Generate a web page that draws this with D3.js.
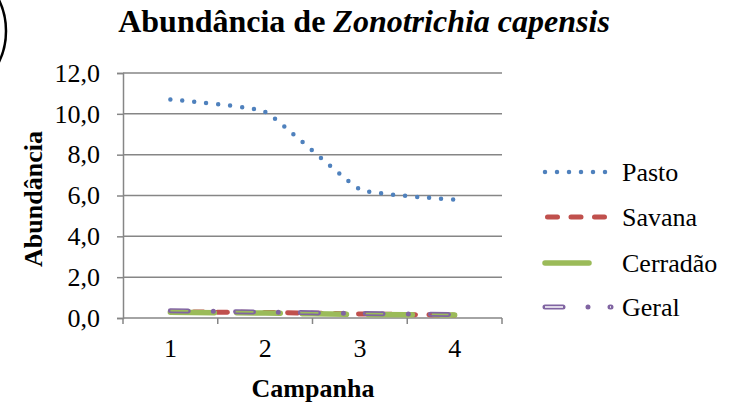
<!DOCTYPE html>
<html>
<head>
<meta charset="utf-8">
<script src="https://cdn.jsdelivr.net/npm/d3@7"></script>
<style>
  body { margin: 0; background: #fff; }
  svg { display: block; font-family: "Liberation Serif", "Times New Roman", serif; }
</style>
</head>
<body>
<div id="chart"></div>
<script>
var WIDTH = 731
var HEIGHT = 406

var campanhas = ['1', '2', '3', '4']
var yTicks = [0, 2, 4, 6, 8, 10, 12]

var pasto = [10.7, 10.1, 6.3, 5.8]
var savana = [0.30, 0.27, 0.20, 0.14]
var cerradao = [0.28, 0.24, 0.17, 0.15]
var geral = [0.36, 0.29, 0.22, 0.17]

var seriesNames = ['Pasto', 'Savana', 'Cerradão', 'Geral']

var PLOT = {left: 123, right: 502, top: 73, bottom: 318}
var GRID = '#868686'
var FONT = '"Liberation Serif", "Times New Roman", serif'

var svg = d3.select('#chart').append('svg')
  .attr('width', WIDTH)
  .attr('height', HEIGHT)
  .attr('font-family', FONT)

var defs = svg.append('defs')

// stray circle from the panel label, cut by the left edge
svg.append('circle')
  .attr('cx', -64)
  .attr('cy', 31)
  .attr('r', 70)
  .attr('fill', 'none')
  .attr('stroke', '#000')
  .attr('stroke-width', 2.5)

var x = d3.scaleBand()
  .domain(campanhas)
  .range([PLOT.left, PLOT.right])

var y = d3.scaleLinear()
  .domain([0, 12])
  .range([PLOT.bottom, PLOT.top])

// gridlines
svg.append('g').selectAll('line')
  .data(yTicks.slice(1))
  .enter().append('line')
  .attr('x1', PLOT.left)
  .attr('x2', PLOT.right)
  .attr('y1', function (d) { return y(d) })
  .attr('y2', function (d) { return y(d) })
  .attr('stroke', GRID)
  .attr('stroke-width', 1.5)

// y axis
var yAxis = svg.append('g')
  .attr('transform', 'translate(' + PLOT.left + ',0)')
  .call(d3.axisLeft(y).tickValues(yTicks).tickSize(6).tickPadding(17)
    .tickFormat(function (d) { return d.toFixed(1).replace('.', ',') }))
yAxis.attr('font-family', FONT)
yAxis.select('.domain').attr('stroke', GRID).attr('stroke-width', 1.5)
yAxis.selectAll('.tick line').attr('stroke', GRID).attr('stroke-width', 1.5)
yAxis.selectAll('text')
  .attr('font-size', 26)
  .attr('fill', '#000')

// x axis
var xAxis = svg.append('g')
  .attr('transform', 'translate(0,' + PLOT.bottom + ')')
  .call(d3.axisBottom(x).tickSize(0).tickPadding(21))
xAxis.attr('font-family', FONT)
xAxis.select('.domain').remove()
xAxis.selectAll('text')
  .attr('font-size', 26)
  .attr('fill', '#000')

svg.append('line')
  .attr('x1', PLOT.left)
  .attr('x2', PLOT.right)
  .attr('y1', PLOT.bottom)
  .attr('y2', PLOT.bottom)
  .attr('stroke', GRID)
  .attr('stroke-width', 1.5)

svg.append('g').selectAll('line')
  .data(d3.range(campanhas.length + 1))
  .enter().append('line')
  .attr('x1', function (i) { return PLOT.left + i * x.step() })
  .attr('x2', function (i) { return PLOT.left + i * x.step() })
  .attr('y1', PLOT.bottom)
  .attr('y2', PLOT.bottom + 6)
  .attr('stroke', GRID)
  .attr('stroke-width', 1.5)

// titles
var title = svg.append('text')
  .attr('x', 364)
  .attr('y', 32)
  .attr('text-anchor', 'middle')
  .attr('font-size', 32)
  .attr('font-weight', 'bold')
title.append('tspan').text('Abundância de ')
title.append('tspan').attr('font-style', 'italic').text('Zonotrichia capensis')

svg.append('text')
  .attr('x', 313)
  .attr('y', 397)
  .attr('text-anchor', 'middle')
  .attr('font-size', 26)
  .attr('font-weight', 'bold')
  .text('Campanha')

svg.append('text')
  .attr('transform', 'translate(42,' + 199 + ') rotate(-90)')
  .attr('text-anchor', 'middle')
  .attr('font-size', 26)
  .attr('font-weight', 'bold')
  .text('Abundância')

// series
var styles = [
  {data: pasto, color: '#4F81BD', width: 4.5, dash: '0 12', off: 0},
  {data: savana, color: '#C0504D', width: 5, dash: '10 13.5', off: -2.5},
  {data: cerradao, color: '#9BBB59', width: 5.5, dash: '44 22', off: 0},
  {data: geral, color: '#8064A2', width: 5, dash: '18 25 0 22', off: 0, hollow: true}
]

var line = d3.line()
  .x(function (d, i) { return x(campanhas[i]) + x.bandwidth() / 2 })
  .y(function (d) { return y(d) })
  .curve(d3.curveCardinal.tension(0.65))

// compound (hollow) stroke: thick line with a thin transparent core
function hollowMask (id, attrs, tag) {
  var m = defs.append('mask').attr('id', id).attr('maskUnits', 'userSpaceOnUse')
    .attr('x', 0).attr('y', 0).attr('width', WIDTH).attr('height', HEIGHT)
  m.append('rect').attr('width', WIDTH).attr('height', HEIGHT).attr('fill', '#fff')
  var core = m.append(tag)
  Object.keys(attrs).forEach(function (k) { core.attr(k, attrs[k]) })
  core.attr('fill', 'none').attr('stroke', '#000').attr('stroke-width', 1.6)
  return 'url(#' + id + ')'
}

var seriesG = svg.append('g')
styles.forEach(function (s, i) {
  var d = line(s.data)
  var p = seriesG.append('path')
    .attr('d', d)
    .attr('fill', 'none')
    .attr('stroke', s.color)
    .attr('stroke-width', s.width)
    .attr('stroke-dasharray', s.dash)
    .attr('stroke-linecap', 'round')
  if (s.hollow) {
    p.attr('mask', hollowMask('core' + i, {d: d, 'stroke-dasharray': s.dash}, 'path'))
  }
})

// legend
var legendY = [172, 217, 263, 307]
var legend = svg.append('g')
styles.forEach(function (s, i) {
  var ly = legendY[i]
  var l = legend.append('line')
    .attr('x1', 545)
    .attr('x2', 611)
    .attr('y1', ly)
    .attr('y2', ly)
    .attr('stroke', s.color)
    .attr('stroke-width', s.width)
    .attr('stroke-dasharray', s.dash)
    .attr('stroke-dashoffset', s.off)
    .attr('stroke-linecap', 'round')
  if (s.hollow) {
    l.attr('mask', hollowMask('lcore' + i,
      {x1: 545, x2: 611, y1: ly, y2: ly, 'stroke-dasharray': s.dash}, 'line'))
  }
  legend.append('text')
    .attr('x', 622)
    .attr('y', ly)
    .attr('dy', '0.35em')
    .attr('font-size', 26)
    .text(seriesNames[i])
})
</script>
</body>
</html>
